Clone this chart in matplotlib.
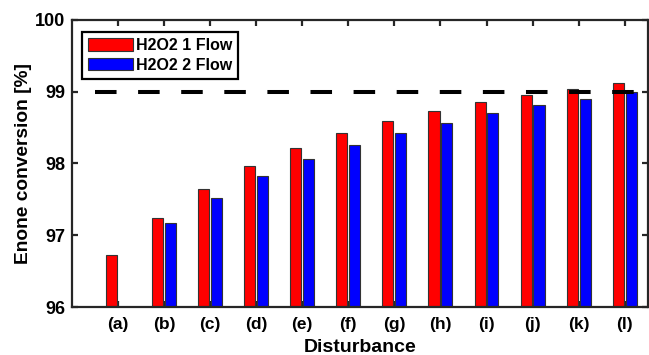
import numpy as np
import matplotlib.pyplot as plt

plt.rcParams['font.family'] = ['Liberation Sans', 'DejaVu Sans']
plt.rcParams['font.weight'] = 'bold'

labels = ['(a)', '(b)', '(c)', '(d)', '(e)', '(f)', '(g)', '(h)', '(i)', '(j)', '(k)', '(l)']
flow1 = [96.72, 97.24, 97.64, 97.96, 98.21, 98.42, 98.59, 98.73, 98.85, 98.95, 99.04, 99.12]
flow2 = [np.nan, 97.17, 97.52, 97.82, 98.06, 98.26, 98.43, 98.57, 98.70, 98.81, 98.90, 98.99]
target = 99.0

axis_col = '#262626'

fig = plt.figure(figsize=(6.49, 3.55), dpi=100)
ax = fig.add_axes([0.111, 0.135, 0.887, 0.809])

x = np.arange(1, len(labels) + 1)
w = 0.24
ax.bar(x - 0.14, flow1, w, bottom=0, color='#ff0000', edgecolor='#333333',
       linewidth=0.8, label='H2O2 1 Flow', zorder=2)
ax.bar(x + 0.14, flow2, w, bottom=0, color='#0000ff', edgecolor='#333333',
       linewidth=0.8, label='H2O2 2 Flow', zorder=2)

# target conversion level
ax.plot([0.5, 12.5], [target, target], color='black', lw=2.9,
        dashes=(5.35, 5.35), zorder=3)

ax.set_xlim(0, 12.5)
ax.set_ylim(96, 100)
ax.set_xticks(x)
ax.set_xticklabels(labels)
ax.set_yticks([96, 97, 98, 99, 100])

for s in ax.spines.values():
    s.set_linewidth(1.6)
    s.set_color(axis_col)
ax.tick_params(direction='in', length=4, width=1.6, color=axis_col,
               top=True, right=True, labelsize=12.5, pad=7)
ax.tick_params(axis='y', labelsize=13, pad=5)
for t in ax.get_xticklabels() + ax.get_yticklabels():
    t.set_fontweight('bold')

ax.set_xlabel('Disturbance', fontsize=14, fontweight='bold', labelpad=5.5)
ax.set_ylabel('Enone conversion [%]', fontsize=13.8, fontweight='bold', labelpad=2)

leg = ax.legend(loc='upper left', bbox_to_anchor=(0.017, 0.958), borderaxespad=0,
                fontsize=11.5, handlelength=2.8, handleheight=0.8,
                handletextpad=0.2, labelspacing=0.3, borderpad=0.38,
                fancybox=False, framealpha=1)
leg.get_frame().set_edgecolor('black')
leg.get_frame().set_linewidth(1.6)
for t in leg.get_texts():
    t.set_fontweight('bold')

fig.savefig('out.png', dpi=100)
